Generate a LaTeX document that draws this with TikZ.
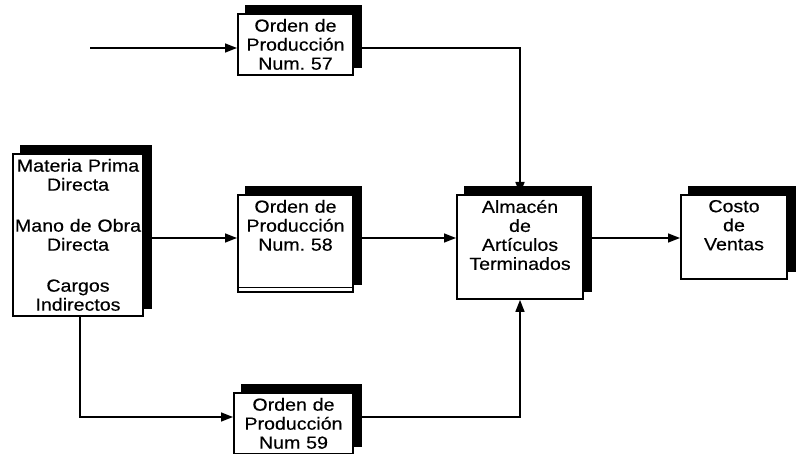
\documentclass[tikz,border=0pt]{standalone}
\usepackage{fontspec}
\setmainfont{Liberation Sans}[FakeStretch=1.12, FakeBold=0.4]
\usetikzlibrary{arrows.meta,shadows}

\tikzset{
  caja/.style={draw, line width=2pt, fill=white, anchor=north west,
    inner xsep=0pt, inner ysep=5pt, align=center,
    font=\fontsize{17.5}{19}\selectfont,
    copy shadow={shadow xshift=8pt, shadow yshift=8pt, fill=black, draw=black}},
  flecha/.style={line width=1.5pt, -{Triangle[length=12pt,width=9pt]}}
}
\newcommand{\fondo}[1]{\rule[-#1]{0pt}{#1}}
\frenchspacing

\begin{document}
\begin{tikzpicture}[x=1pt,y=-1pt]
\useasboundingbox (0,0) rectangle (810,454);

\def\xizq{12};
\def\xord{237};
\def\xalm{456};
\def\xcos{680};
\def\ymed{194};

% cajas
\node[caja, text width=115pt] (q57) at (\xord, 13) {Orden de\\Producción\\Num. 57};
\node[caja, text width=130pt] (izq) at (\xizq, 153) {Materia Prima\\Directa\\[22pt]Mano de Obra\\Directa\\[22pt]Cargos\\Indirectos};
\node[caja, text width=115pt] (q58) at (\xord, \ymed) {Orden de\\Producción\\Num. 58\fondo{36pt}};
\node[caja, text width=126pt] (alm) at (\xalm, \ymed) {Almacén\\de\\Artículos\\Terminados\fondo{24pt}};
\node[caja, text width=106pt] (costo) at (\xcos, \ymed) {Costo\\de\\Ventas\fondo{24pt}};
\node[caja, text width=119pt] (q59) at (\xord-4, 392) {Orden de\\Producción\\Num 59};

\draw[line width=0.8pt] ([yshift=5pt]q58.south west) -- ([yshift=5pt]q58.south east);

% flechas
\coordinate (ini) at (90, 48);
\coordinate (fila) at (0, 238);
\coordinate (codo) at (80, 417);

\draw[flecha] (ini) -- (ini -| q57.west);
\draw[flecha] (ini -| q57.east) -| (alm.north);
\draw[flecha] (fila -| izq.east) -- (fila -| q58.west);
\draw[flecha] (fila -| q58.east) -- (fila -| alm.west);
\draw[flecha] (fila -| alm.east) -- (fila -| costo.west);
\draw[flecha] (codo |- izq.south) |- (codo -| q59.west);
\draw[flecha] (codo -| q59.east) -| (alm.south);

\end{tikzpicture}
\end{document}
